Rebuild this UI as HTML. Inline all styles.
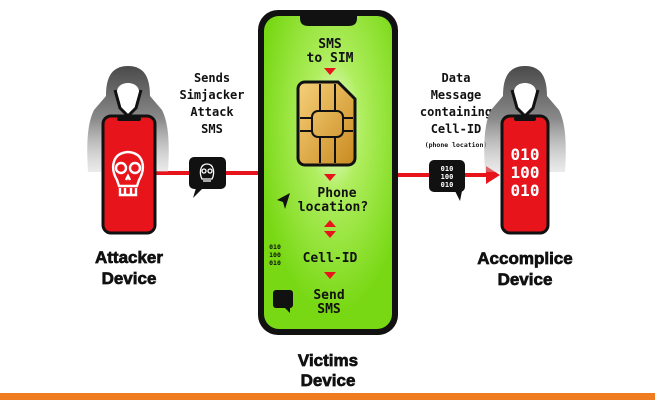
<!DOCTYPE html>
<html><head><meta charset="utf-8"><style>
html,body{margin:0;padding:0;background:#fff}
svg{display:block}
.t{font-family:"DejaVu Sans Mono","Liberation Mono",monospace;font-weight:bold;fill:#111;text-anchor:middle}
.b{font-family:"Liberation Sans",sans-serif;font-weight:bold;fill:#111;text-anchor:middle;stroke:#111;stroke-width:0.7}
</style></head><body>
<svg width="655" height="400" viewBox="0 0 655 400" xmlns="http://www.w3.org/2000/svg">
<defs>
<linearGradient id="hood" x1="0" y1="0" x2="0" y2="1">
<stop offset="0" stop-color="#4a4a4a"/><stop offset="0.5" stop-color="#8a8a8a"/><stop offset="1" stop-color="#ccc" stop-opacity="0.4"/>
</linearGradient>
<radialGradient id="scr" cx="0.55" cy="0.35" r="0.6">
<stop offset="0" stop-color="#f4ffe8"/><stop offset="0.35" stop-color="#b0ee60"/><stop offset="1" stop-color="#78d814"/>
</radialGradient>
<linearGradient id="gold" x1="0" y1="0" x2="1" y2="1">
<stop offset="0" stop-color="#f6d07a"/><stop offset="1" stop-color="#c98a20"/>
</linearGradient>
</defs>
<rect width="655" height="400" fill="#fff"/>
<rect x="0" y="393" width="655" height="7" fill="#f07c22"/>

<path d="M155 173 H272 V45 H292" fill="none" stroke="#e8141c" stroke-width="4"/>
<polygon points="290,38 302,45 290,52" fill="#e8141c"/>
<path d="M355 302 H383 V175 H488" fill="none" stroke="#e8141c" stroke-width="4"/>
<polygon points="486,166 500,175 486,184" fill="#e8141c"/>

<!-- Attacker -->
<path d="M128 66 C110 66 106 80 106 96 L94 110 C88 122 86 140 88 172 L168 172 C170 140 168 122 162 110 L150 96 C150 80 146 66 128 66Z" fill="url(#hood)"/>
<path d="M117 92 C117 80 139 80 139 92 L136 108 L128 116 L120 108Z" fill="#fff"/>
<path d="M115 90 L120 108 L128 116 L136 108 L141 90" fill="none" stroke="#111" stroke-width="3"/>
<rect x="103" y="116" width="52" height="117" rx="8" fill="#e8141c" stroke="#111" stroke-width="3"/>
<rect x="117" y="117" width="24" height="4" rx="2" fill="#111"/>
<g fill="none" stroke="#fff" stroke-width="2.4">
<path d="M117 180 C110 168 112 153 128 152 C144 153 146 168 139 180 L137 186 L119 186Z"/>
<circle cx="121" cy="168" r="5"/><circle cx="135" cy="168" r="5"/>
<path d="M126 180 L128 176 L130 180"/>
<path d="M120 188 V195 H136 V188 M125 188V195 M131 188V195"/>
</g>
<text class="b" x="129" y="263" font-size="17">Attacker</text>
<text class="b" x="129" y="284" font-size="17">Device</text>

<text class="t" x="212" y="82" font-size="12">Sends</text>
<text class="t" x="212" y="99" font-size="12">Simjacker</text>
<text class="t" x="212" y="116" font-size="12">Attack</text>
<text class="t" x="212" y="133" font-size="12">SMS</text>
<rect x="189" y="157" width="37" height="32" rx="5" fill="#111"/>
<polygon points="196,188 193,198 203,188" fill="#111"/>
<g fill="none" stroke="#fff" stroke-width="1.3">
<path d="M202 179 C199 173 200 164 207 164 C214 164 215 173 212 179Z"/>
<circle cx="204" cy="171" r="2"/><circle cx="210" cy="171" r="2"/><path d="M203 181 H211"/>
</g>

<!-- Victim phone -->
<rect x="258" y="10" width="140" height="325" rx="20" fill="#111"/>
<rect x="264" y="16" width="128" height="313" rx="15" fill="url(#scr)"/>
<path d="M300 12 H357 V18 C357 24 354 26 348 26 H309 C303 26 300 24 300 18Z" fill="#111"/>
<text class="t" x="330" y="48" font-size="13">SMS</text>
<text class="t" x="330" y="62" font-size="13">to SIM</text>
<polygon points="324,68 336,68 330,75" fill="#e8141c"/>
<path d="M305 82 H338 L355 99 V158 C355 162 352 165 348 165 H305 C301 165 298 162 298 158 V89 C298 85 301 82 305 82Z" fill="url(#gold)" stroke="#111" stroke-width="3"/>
<g fill="none" stroke="#111" stroke-width="2">
<path d="M320 84 V112 M335 84 V112 M320 136 V163 M335 136 V163 M300 118 H312 M343 118 H353 M300 131 H312 M343 131 H353"/>
<rect x="312" y="111" width="31" height="26" rx="6"/>
</g>
<polygon points="324,174 336,174 330,181" fill="#e8141c"/>
<text class="t" x="337" y="197" font-size="13">Phone</text>
<text class="t" x="333" y="211" font-size="13">location?</text>
<polygon points="290,193 277,200 283,202 285,209" fill="#111"/>
<polygon points="324,227 336,227 330,220" fill="#e8141c"/>
<polygon points="324,231 336,231 330,238" fill="#e8141c"/>
<text class="t" x="275" y="249" font-size="6.5">010</text>
<text class="t" x="275" y="257" font-size="6.5">100</text>
<text class="t" x="275" y="265" font-size="6.5">010</text>
<text class="t" x="330" y="262" font-size="13">Cell-ID</text>
<polygon points="324,272 336,272 330,279" fill="#e8141c"/>
<rect x="273" y="290" width="20" height="18" rx="3" fill="#111"/>
<polygon points="284,307 290,313 290,307" fill="#111"/>
<text class="t" x="329" y="299" font-size="13">Send</text>
<text class="t" x="329" y="313" font-size="13">SMS</text>
<text class="b" x="328" y="366" font-size="17">Victims</text>
<text class="b" x="328" y="386" font-size="17">Device</text>

<!-- Accomplice -->
<text class="t" x="456" y="82" font-size="12">Data</text>
<text class="t" x="456" y="99" font-size="12">Message</text>
<text class="t" x="456" y="116" font-size="12">containing</text>
<text class="t" x="456" y="133" font-size="12">Cell-ID</text>
<text class="t" x="456" y="147" font-size="6.5">(phone location)</text>
<rect x="429" y="160" width="36" height="32" rx="5" fill="#111"/>
<polygon points="455,191 460,201 462,191" fill="#111"/>
<text x="447" y="171" font-size="7" font-weight="bold" fill="#fff" text-anchor="middle" font-family="DejaVu Sans Mono,monospace">010</text>
<text x="447" y="179" font-size="7" font-weight="bold" fill="#fff" text-anchor="middle" font-family="DejaVu Sans Mono,monospace">100</text>
<text x="447" y="187" font-size="7" font-weight="bold" fill="#fff" text-anchor="middle" font-family="DejaVu Sans Mono,monospace">010</text>

<path d="M525 66 C507 66 503 80 503 96 L491 110 C485 122 483 140 485 172 L565 172 C567 140 565 122 559 110 L547 96 C547 80 543 66 525 66Z" fill="url(#hood)"/>
<path d="M514 92 C514 80 536 80 536 92 L533 108 L525 116 L517 108Z" fill="#fff"/>
<path d="M512 90 L517 108 L525 116 L533 108 L538 90" fill="none" stroke="#111" stroke-width="3"/>
<rect x="502" y="116" width="46" height="117" rx="8" fill="#e8141c" stroke="#111" stroke-width="3"/>
<rect x="514" y="117" width="22" height="4" rx="2" fill="#111"/>
<text x="525" y="160" font-size="16" font-weight="bold" fill="#fff" text-anchor="middle" font-family="DejaVu Sans Mono,monospace">010</text>
<text x="525" y="178" font-size="16" font-weight="bold" fill="#fff" text-anchor="middle" font-family="DejaVu Sans Mono,monospace">100</text>
<text x="525" y="196" font-size="16" font-weight="bold" fill="#fff" text-anchor="middle" font-family="DejaVu Sans Mono,monospace">010</text>
<text class="b" x="525" y="264" font-size="17">Accomplice</text>
<text class="b" x="525" y="285" font-size="17">Device</text>
</svg>
</body></html>
